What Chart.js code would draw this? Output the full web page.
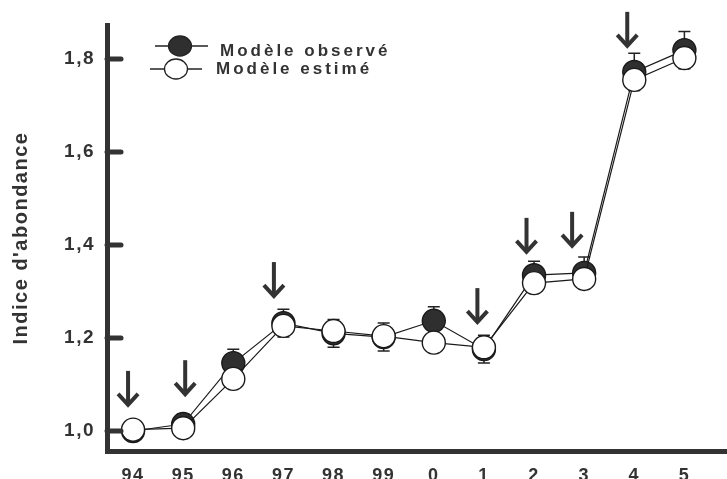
<!DOCTYPE html>
<html>
<head>
<meta charset="utf-8">
<script src="https://cdn.jsdelivr.net/npm/chart.js@4"></script>
<style>
  html, body { margin: 0; padding: 0; background: #fff; }
  #wrap { width: 727px; height: 479px; position: relative; }
</style>
</head>
<body>
<div id="wrap"><canvas id="chart"></canvas></div>
<script>
// Years (two last digits) on the x axis
const categories = ['94', '95', '96', '97', '98', '99', '0', '1', '2', '3', '4', '5'];

// Abundance index, observed and estimated
const observed = [1.000, 1.015, 1.146, 1.232, 1.210, 1.202, 1.237, 1.176, 1.335, 1.340, 1.772, 1.819];
const estimated = [1.003, 1.006, 1.112, 1.226, 1.215, 1.204, 1.190, 1.180, 1.318, 1.327, 1.755, 1.802];
const observedErr = [0, 0.022, 0.03, 0.03, 0.03, 0.03, 0.03, 0.03, 0.03, 0.034, 0.04, 0.04];

// Y tick labels
const yTicks = [1.0, 1.2, 1.4, 1.6, 1.8];

// Down arrows (x in category index units, y = arrow tip value)
const arrowX = [-0.1, 1.04, 2.81, 6.87, 7.85, 8.76, 9.86];
const arrowTip = [1.054, 1.077, 1.288, 1.232, 1.383, 1.396, 1.826];

const legendLabels = ['Modèle observé', 'Modèle estimé'];

const INK = '#333333';
const FONT = "'Liberation Sans', Arial, sans-serif";

const toXY = (arr) => arr.map((v, i) => ({ x: i, y: v }));

// wide letter spacing for all chart text
const spacing = {
    id: 'spacing',
    beforeDraw(chart) { chart.ctx.letterSpacing = '1.5px'; },
    afterDraw(chart) { chart.ctx.letterSpacing = '0px'; }
};

// Error bars behind the markers
const errorBars = {
    id: 'errorBars',
    beforeDatasetsDraw(chart) {
        const { ctx, scales: { x, y } } = chart;
        ctx.save();
        ctx.strokeStyle = '#222';
        ctx.lineWidth = 1.5;
        observed.forEach((v, i) => {
            const e = observedErr[i];
            if (!e) return;
            const px = x.getPixelForValue(i);
            const top = y.getPixelForValue(v + e);
            const bot = y.getPixelForValue(v - e);
            ctx.beginPath();
            ctx.moveTo(px, top); ctx.lineTo(px, bot);
            ctx.moveTo(px - 6, top); ctx.lineTo(px + 6, top);
            ctx.moveTo(px - 6, bot); ctx.lineTo(px + 6, bot);
            ctx.stroke();
        });
        ctx.restore();
    }
};

// Y tick marks pointing inward, arrows and legend
const decorations = {
    id: 'decorations',
    afterDatasetsDraw(chart) {
        const { ctx, chartArea, scales: { x, y } } = chart;
        ctx.save();
        ctx.strokeStyle = INK;
        ctx.lineCap = 'round';

        // inward ticks
        ctx.lineWidth = 5;
        yTicks.forEach(v => {
            const py = y.getPixelForValue(v);
            ctx.beginPath();
            ctx.moveTo(chartArea.left, py);
            ctx.lineTo(chartArea.left + 14, py);
            ctx.stroke();
        });

        // arrows
        ctx.lineWidth = 4;
        ctx.lineCap = 'butt';
        arrowX.forEach((ax, i) => {
            const px = x.getPixelForValue(ax);
            const tip = y.getPixelForValue(arrowTip[i]);
            ctx.beginPath();
            ctx.moveTo(px, tip - 35);
            ctx.lineTo(px, tip - 2);
            ctx.stroke();
            ctx.beginPath();
            ctx.moveTo(px - 10, tip - 12);
            ctx.lineTo(px, tip - 1);
            ctx.lineTo(px + 10, tip - 12);
            ctx.stroke();
        });

        // legend
        const rows = [
            { lx1: 155, lx2: 208, mx: 180, my: 46, fill: '#2f2f2f', tx: 220, ty: 56 },
            { lx1: 150, lx2: 202, mx: 176, my: 69, fill: '#ffffff', tx: 216, ty: 74 }
        ];
        rows.forEach((r, i) => {
            ctx.strokeStyle = '#222';
            ctx.lineWidth = 1.3;
            ctx.beginPath();
            ctx.moveTo(r.lx1, r.my); ctx.lineTo(r.lx2, r.my);
            ctx.stroke();
            ctx.beginPath();
            ctx.ellipse(r.mx, r.my, 11.5, 10, 0, 0, Math.PI * 2);
            ctx.fillStyle = r.fill;
            ctx.fill();
            ctx.stroke();
            ctx.fillStyle = INK;
            ctx.font = 'bold 17px ' + FONT;
            ctx.letterSpacing = '3px';
            ctx.textAlign = 'left';
            ctx.textBaseline = 'alphabetic';
            ctx.fillText(legendLabels[i], r.tx, r.ty);
        });
        ctx.restore();
    }
};

const ctx = document.getElementById('chart').getContext('2d');
new Chart(ctx, {
    type: 'line',
    data: {
        datasets: [
            {
                label: legendLabels[1],
                data: toXY(estimated),
                borderColor: '#1a1a1a',
                borderWidth: 1.2,
                pointRadius: 11.5,
                pointBorderWidth: 1.4,
                pointBorderColor: '#1a1a1a',
                pointBackgroundColor: '#ffffff',
                tension: 0,
                clip: false
            },
            {
                label: legendLabels[0],
                data: toXY(observed),
                borderColor: '#1a1a1a',
                borderWidth: 1.2,
                pointRadius: 11.5,
                pointBorderWidth: 1.4,
                pointBorderColor: '#1a1a1a',
                pointBackgroundColor: '#2f2f2f',
                tension: 0,
                clip: false
            }
        ]
    },
    options: {
        responsive: true,
        maintainAspectRatio: false,
        animation: false,
        layout: { autoPadding: false, padding: { top: 25, left: 0, right: 0, bottom: 0 } },
        plugins: {
            legend: { display: false },
            tooltip: { enabled: false }
        },
        scales: {
            x: {
                type: 'linear',
                min: -0.52,
                max: 11.85,
                afterFit: (s) => { s.height = 28; },
                afterBuildTicks: (s) => { s.ticks = categories.map((_, i) => ({ value: i })); },
                grid: { display: false, drawTicks: false },
                border: { display: true, color: INK, width: 5 },
                ticks: {
                    padding: 14,
                    color: INK,
                    font: { family: FONT, size: 18, weight: 'bold' },
                    callback: (v) => categories[v],
                    maxRotation: 0,
                    autoSkip: false
                }
            },
            y: {
                min: 0.957,
                max: 1.873,
                afterFit: (s) => { s.width = 107; },
                afterBuildTicks: (s) => { s.ticks = yTicks.map(v => ({ value: v })); },
                grid: { display: false, drawTicks: false },
                border: { display: true, color: INK, width: 5 },
                ticks: {
                    padding: 12,
                    color: INK,
                    font: { family: FONT, size: 19, weight: 'bold' },
                    callback: (v) => v.toFixed(1).replace('.', ',')
                },
                title: {
                    display: true,
                    text: "Indice d'abondance",
                    color: INK,
                    padding: { top: 9, bottom: 0 },
                    font: { family: FONT, size: 20, weight: 'bold' }
                }
            }
        }
    },
    plugins: [spacing, errorBars, decorations]
});
</script>
</body>
</html>
